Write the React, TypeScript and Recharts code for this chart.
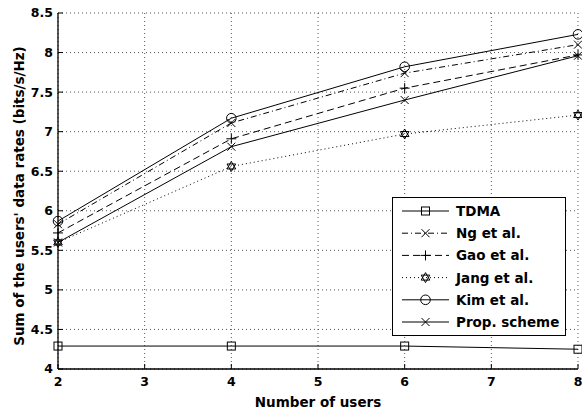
import React from "react";
import { LineChart, Line, XAxis, YAxis, CartesianGrid, Label } from "recharts";

// Sum rate vs. number of users, one array per scheme
const users = [2, 4, 6, 8];
const tdmaRates = [4.29, 4.29, 4.29, 4.25];
const ngRates = [5.83, 7.11, 7.74, 8.1];
const gaoRates = [5.72, 6.91, 7.55, 7.97];
const jangRates = [5.6, 6.56, 6.97, 7.21];
const kimRates = [5.87, 7.17, 7.82, 8.23];
const propRates = [5.6, 6.81, 7.4, 7.96];

const xTicks = [2, 3, 4, 5, 6, 7, 8];
const yTicks = [4, 4.5, 5, 5.5, 6, 6.5, 7, 7.5, 8, 8.5];

const FONT = "'DejaVu Sans', 'Liberation Sans', sans-serif";

type MarkerKind = "square" | "cross" | "plus" | "hexagram" | "circle";

interface Series {
  key: string;
  name: string;
  values: number[];
  dash?: string;
  marker: MarkerKind;
}

const series: Series[] = [
  { key: "tdma", name: "TDMA", values: tdmaRates, marker: "square" },
  { key: "ng", name: "Ng et al.", values: ngRates, dash: "6 3 1 3", marker: "cross" },
  { key: "gao", name: "Gao et al.", values: gaoRates, dash: "7 4", marker: "plus" },
  { key: "jang", name: "Jang et al.", values: jangRates, dash: "1 3", marker: "hexagram" },
  { key: "kim", name: "Kim et al.", values: kimRates, marker: "circle" },
  { key: "prop", name: "Prop. scheme", values: propRates, marker: "cross" },
];

const rows = users.map((u, i) => {
  const row: Record<string, number> = { users: u };
  series.forEach((s) => {
    row[s.key] = s.values[i];
  });
  return row;
});

function MarkerShape({ kind, cx, cy }: { kind: MarkerKind; cx: number; cy: number }) {
  const stroke = "#000";
  switch (kind) {
    case "square":
      return <rect x={cx - 4} y={cy - 4} width={8} height={8} fill="none" stroke={stroke} />;
    case "cross":
      return (
        <path
          d={`M${cx - 4},${cy - 4}L${cx + 4},${cy + 4}M${cx - 4},${cy + 4}L${cx + 4},${cy - 4}`}
          stroke={stroke}
          fill="none"
        />
      );
    case "plus":
      return (
        <path
          d={`M${cx - 5},${cy}L${cx + 5},${cy}M${cx},${cy - 5}L${cx},${cy + 5}`}
          stroke={stroke}
          fill="none"
        />
      );
    case "hexagram": {
      const r = 5;
      const tri = (start: number) =>
        [0, 120, 240]
          .map((a) => {
            const t = ((start + a) * Math.PI) / 180;
            return `${cx + r * Math.cos(t)},${cy + r * Math.sin(t)}`;
          })
          .join(" ");
      return (
        <g fill="none" stroke={stroke}>
          <polygon points={tri(-90)} />
          <polygon points={tri(90)} />
        </g>
      );
    }
    case "circle":
      return <circle cx={cx} cy={cy} r={4.8} fill="none" stroke={stroke} />;
  }
}

function LegendBox() {
  const rowGap = 22.2;
  return (
    <div
      style={{
        position: "absolute",
        left: 392,
        top: 197,
        width: 174,
        height: 139,
        boxSizing: "border-box",
        border: "1.3px solid #000",
        background: "#fff",
      }}
    >
      <svg width={172} height={137} style={{ display: "block" }}>
        {series.map((s, i) => {
          const y = 13 + i * rowGap;
          return (
            <g key={s.key}>
              <line x1={9} x2={56} y1={y} y2={y} stroke="#000" strokeDasharray={s.dash} />
              <MarkerShape kind={s.marker} cx={32.5} cy={y} />
              <text
                x={63}
                y={y + 5}
                fontSize={13.5}
                fontWeight="bold"
                fontFamily={FONT}
                fill="#000"
              >
                {s.name}
              </text>
            </g>
          );
        })}
      </svg>
    </div>
  );
}

const tickStyle = { fill: "#000", fontSize: 12.5, fontWeight: "bold", fontFamily: FONT };
const frame = { stroke: "#000", strokeWidth: 1.3 };

export default function App() {
  return (
    <div style={{ position: "absolute", left: 0, top: 0, width: 582, height: 412, background: "#fff" }}>
      <LineChart width={582} height={412} data={rows} margin={{ top: 13, right: 4, bottom: 0, left: 8 }}>
        <CartesianGrid stroke="#555" strokeDasharray="1 3" />
        <XAxis
          dataKey="users"
          type="number"
          domain={[2, 8]}
          ticks={xTicks}
          height={43}
          tick={tickStyle}
          tickSize={-5}
          tickMargin={13}
          axisLine={frame}
          tickLine={{ stroke: "#000" }}
        >
          <Label
            content={({ viewBox }: any) => (
              <text
                x={viewBox.x + viewBox.width / 2}
                y={viewBox.y + 38}
                textAnchor="middle"
                fontSize={13.5}
                fontWeight="bold"
                fontFamily={FONT}
                fill="#000"
              >
                Number of users
              </text>
            )}
          />
        </XAxis>
        <XAxis
          xAxisId="top"
          orientation="top"
          dataKey="users"
          type="number"
          domain={[2, 8]}
          ticks={xTicks}
          height={0}
          tick={false}
          tickSize={-5}
          axisLine={frame}
          tickLine={{ stroke: "#000" }}
        />
        <YAxis
          type="number"
          domain={[4, 8.5]}
          ticks={yTicks}
          width={50}
          tick={tickStyle}
          tickSize={-5}
          tickMargin={10}
          axisLine={frame}
          tickLine={{ stroke: "#000" }}
        >
          <Label
            content={({ viewBox }: any) => {
              const cx = viewBox.x + 11;
              const cy = viewBox.y + viewBox.height / 2 + 5;
              return (
                <text
                  x={cx}
                  y={cy}
                  transform={`rotate(-90 ${cx} ${cy})`}
                  textAnchor="middle"
                  dominantBaseline="central"
                  fontSize={13.5}
                  fontWeight="bold"
                  fontFamily={FONT}
                  fill="#000"
                >
                  Sum of the users' data rates (bits/s/Hz)
                </text>
              );
            }}
          />
        </YAxis>
        <YAxis
          yAxisId="right"
          orientation="right"
          type="number"
          domain={[4, 8.5]}
          ticks={yTicks}
          width={0}
          tick={false}
          tickSize={-5}
          axisLine={frame}
          tickLine={{ stroke: "#000" }}
        />
        {series.map((s) => (
          <Line
            key={s.key}
            dataKey={s.key}
            name={s.name}
            type="linear"
            stroke="#000"
            strokeWidth={1}
            strokeDasharray={s.dash}
            isAnimationActive={false}
            activeDot={false}
            dot={(p: any) => (
              <MarkerShape key={`${s.key}-${p.index}`} kind={s.marker} cx={p.cx} cy={p.cy} />
            )}
          />
        ))}
      </LineChart>
      <LegendBox />
    </div>
  );
}
